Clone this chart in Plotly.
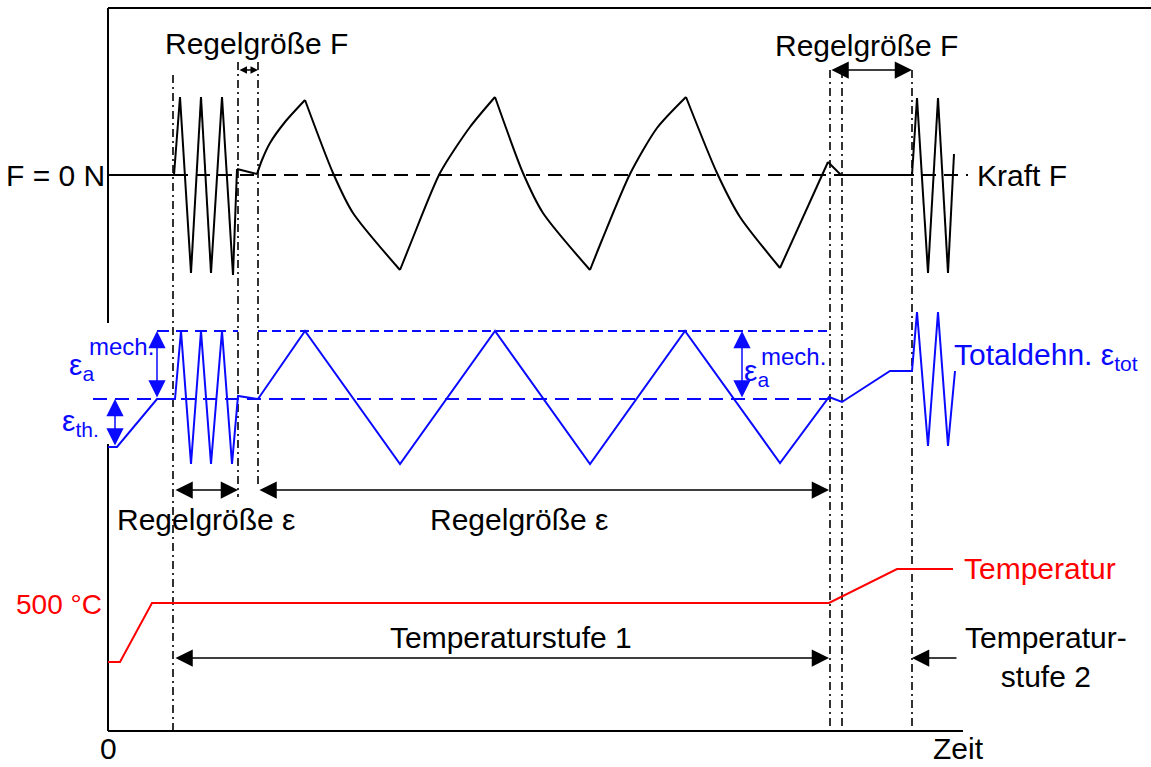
import plotly.graph_objects as go

# ---------------- data ----------------
# x: time position, y: signal level (diagram units, y axis drawn top-down)
force_t = [108, 174, 180, 191, 201, 211, 222, 233, 237, 257, 262, 270, 285, 305,
           333, 353, 400, 412, 440, 470, 495, 523, 543, 590, 602, 630, 657, 686,
           717, 740, 780, 828, 841, 912, 917, 928, 938, 948, 954]
force_y = [175, 175, 97, 273, 97, 273, 97, 275, 169, 174, 160, 143, 122, 100,
           173, 213, 270, 240, 173, 127, 97, 173, 213, 270, 240, 174, 128, 97,
           173, 217, 268, 162, 175, 175, 98, 273, 98, 273, 154]
# indices of sharp corners of the force signal (curved branches lie between them)
force_corners = [0, 1, 2, 3, 4, 5, 6, 7, 8, 9, 13, 16, 20, 23, 27, 30, 31, 32, 33,
                 34, 35, 36, 37, 38]

strain_t = [108, 117, 157, 175, 181, 191, 201, 211, 222, 232, 238, 258, 305, 400,
            495, 590, 685, 780, 829, 842, 890, 912, 917, 928, 938, 948, 955]
strain_y = [447, 447, 399, 399, 331, 464, 331, 464, 331, 464, 396, 399, 331, 464,
            331, 464, 331, 463, 397, 402, 371, 371, 312, 446, 312, 446, 371]

temp_t = [108, 120, 152, 829, 897, 953]
temp_y = [662, 662, 603, 603, 569, 569]

force_zero = 175          # F = 0 N
eps_upper = 331           # eps_th + eps_a(mech)
eps_thermal = 399         # eps_th level
phase_t = [173, 238, 258, 830, 842, 912]   # phase boundaries (dash-dot)
phase_top = [75, 62, 62, 70, 70, 70]
phase_bottom = [731, 497, 487, 727, 727, 727]

BLACK = "#000000"
BLUE = "#0a0aff"
RED = "#ff0000"
FONT = "Liberation Sans"
FS = 30

fig = go.Figure()

def line(xs, ys, color=BLACK, width=2, dash="solid", shape="linear"):
    fig.add_trace(go.Scatter(x=xs, y=ys, mode="lines",
                             line=dict(color=color, width=width, dash=dash, shape=shape,
                                       smoothing=0.7 if shape == "spline" else None),
                             hoverinfo="skip", showlegend=False))

# axes frame
line([108, 108], [8, 323])
line([108, 108], [444, 731])
line([108, 963], [731, 731])
line([108, 1151], [8, 8])

# phase boundaries
for t, a, b in zip(phase_t, phase_top, phase_bottom):
    line([t, t], [a, b], width=1.6, dash="8px,4px,2px,4px")

# reference levels
line([174, 968], [force_zero, force_zero], dash="14px,8px")
line([93, 830], [eps_thermal, eps_thermal], color=BLUE, dash="14px,8px")
line([157, 238], [eps_upper, eps_upper], color=BLUE, dash="12px,7px")
line([258, 830], [eps_upper, eps_upper], color=BLUE, dash="9px,5px")

# signals
for i0, i1 in zip(force_corners[:-1], force_corners[1:]):
    seg_t = force_t[i0:i1 + 1]
    seg_y = force_y[i0:i1 + 1]
    line(seg_t, seg_y, color=BLACK, width=2, shape="spline" if len(seg_t) > 2 else "linear")
line(strain_t, strain_y, color=BLUE, width=2)
line(temp_t, temp_y, color=RED, width=2)

ann = []

def text(x, y, s, color=BLACK, size=FS, xanchor="center", yanchor="middle", align="center"):
    ann.append(dict(x=x, y=y, xref="x", yref="y", text=s, showarrow=False,
                    font=dict(family=FONT, size=size, color=color),
                    xanchor=xanchor, yanchor=yanchor, align=align))

def arrow(x0, y0, x1, y1, both=True, color=BLACK, size=2.3):
    ann.append(dict(x=x1, y=y1, ax=x0, ay=y0, xref="x", yref="y", axref="x", ayref="y",
                    text="", showarrow=True, arrowhead=2, arrowsize=size, arrowwidth=1.5,
                    arrowcolor=color, arrowside="end+start" if both else "end",
                    startarrowhead=2, startarrowsize=size))

# labels
text(256, 43, "Regelgröße F")
text(866, 45, "Regelgröße F")
text(107, 175, "F = 0 N", xanchor="right")
text(975, 175, "Kraft F", xanchor="left")
text(206, 519, "Regelgröße ε")
text(519, 519, "Regelgröße ε")
text(104, 604, "500 °C", color=RED, size=28, xanchor="right")
text(962, 568, "Temperatur", color=RED, xanchor="left")
text(511, 637, "Temperaturstufe 1")
text(1046, 657, "Temperatur-<br>stufe 2")
text(108, 767, "0", yanchor="bottom")
text(958, 767, "Zeit", yanchor="bottom")
text(952, 356, "Totaldehn. ε<sub>tot</sub>", color=BLUE, xanchor="left")
text(67, 366, "ε<sub>a</sub>", color=BLUE, xanchor="left")
text(87, 346, "mech.", color=BLUE, size=24, xanchor="left")
text(60, 422, "ε<sub>th.</sub>", color=BLUE, xanchor="left")
text(742, 372, "ε<sub>a</sub>", color=BLUE, xanchor="left")
text(759, 356, "mech.", color=BLUE, size=24, xanchor="left")

# dimension arrows
arrow(238, 70, 258, 70, size=1.0)
arrow(830, 70, 912, 70)
arrow(174, 490, 238, 490)
arrow(258, 490, 829, 490)
arrow(174, 658, 829, 658)
arrow(958, 658, 912, 658, both=False)
arrow(157, eps_thermal, 157, eps_upper, color=BLUE)
arrow(115, 447, 115, eps_thermal, color=BLUE)
arrow(742, eps_thermal, 742, eps_upper, color=BLUE)

fig.update_layout(
    width=1151, height=767, margin=dict(l=0, r=0, t=0, b=0),
    paper_bgcolor="white", plot_bgcolor="white",
    xaxis=dict(range=[0, 1151], visible=False, fixedrange=True),
    yaxis=dict(range=[767, 0], visible=False, fixedrange=True),
    annotations=ann, showlegend=False,
)

fig.write_html("out.html")
